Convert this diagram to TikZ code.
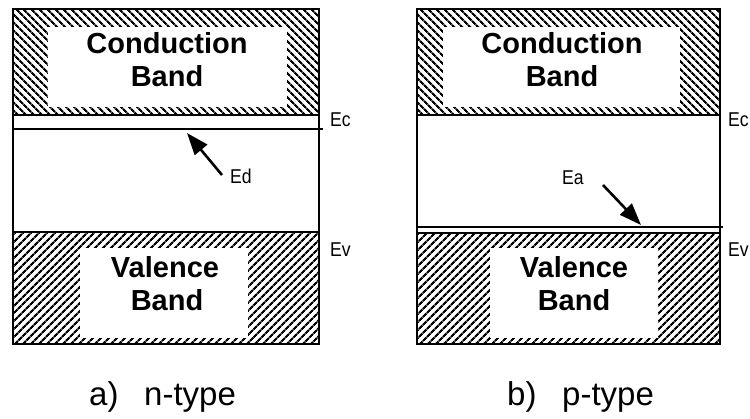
\documentclass[tikz,border=0pt]{standalone}
\usepackage{fontspec}
\setmainfont{Liberation Sans}
\usetikzlibrary{patterns.meta,arrows.meta}
\begin{document}
\begin{tikzpicture}[x=1pt,y=-1pt,
  box/.style={line width=2pt},
  cbhatch/.style={pattern={Lines[angle=-45,distance=5.4pt,line width=2.2pt]}},
  vbhatch/.style={pattern={Lines[angle=45,distance=5.4pt,line width=2.2pt]}},
  bandtxt/.style={font=\bfseries\fontsize{29}{33}\selectfont, anchor=base, inner sep=0pt},
  lvl/.style={font=\fontsize{20}{22}\selectfont, anchor=base west, inner sep=0pt, xscale=0.88},
  captxt/.style={font=\fontsize{33}{36}\selectfont, anchor=base west, inner sep=0pt},
  lvline/.style={line width=2pt},
  arr/.style={line width=2.6pt, -{Triangle[length=22pt,width=16pt]}}]
\useasboundingbox (0,0) rectangle (750,418);
\fill[white] (0,0) rectangle (750,418);

% ---------- a) n-type ----------
\fill[cbhatch] (13,9) rectangle (319,115);
\fill[white] (48,27) rectangle (287,107);
\fill[vbhatch] (13,232) rectangle (319,344);
\fill[white] (80,248) rectangle (248,338);
\draw[box] (13,9) rectangle (319,344);
\draw[lvline] (13,115) -- (319,115);
\draw[lvline] (13,232) -- (319,232);
\draw[lvline] (13,129) -- (323,129);
\node[bandtxt] (acond) at (167,53) {Conduction};
\node[bandtxt] (acband) at (167,86) {Band};
\node[bandtxt] (aval) at (165,277) {Valence};
\node[bandtxt] (avband) at (167,310) {Band};
\node[lvl] (aEc) at (330,126) {Ec};
\node[lvl] (aEv) at (330,256) {Ev};
\node[lvl] (aEd) at (230,183) {Ed};
\coordinate (aTail) at (222,175);
\coordinate (aHead) at (187,133);
\draw[arr] (aTail) -- (aHead);
\node[captxt] (acap) at (89,405) {a)\hspace{0.5em} n-type};

% ---------- b) p-type ----------
\fill[cbhatch] (417,9) rectangle (720,115);
\fill[white] (443,27) rectangle (680,107);
\fill[vbhatch] (417,233) rectangle (720,344);
\fill[white] (490,248) rectangle (658,338);
\draw[box] (417,9) rectangle (720,344);
\draw[lvline] (417,115) -- (720,115);
\draw[lvline] (417,233) -- (720,233);
\draw[lvline] (417,227) -- (723,227);
\node[bandtxt] (bcond) at (562,53) {Conduction};
\node[bandtxt] (bcband) at (562,86) {Band};
\node[bandtxt] (bval) at (574,277) {Valence};
\node[bandtxt] (bvband) at (574,310) {Band};
\node[lvl] (bEc) at (728,126) {Ec};
\node[lvl] (bEv) at (728,256) {Ev};
\node[lvl] (bEa) at (562,184) {Ea};
\coordinate (bTail) at (603,185);
\coordinate (bHead) at (641,225);
\draw[arr] (bTail) -- (bHead);
\node[captxt] (bcap) at (507,405) {b)\hspace{0.5em} p-type};
\end{tikzpicture}
\end{document}
